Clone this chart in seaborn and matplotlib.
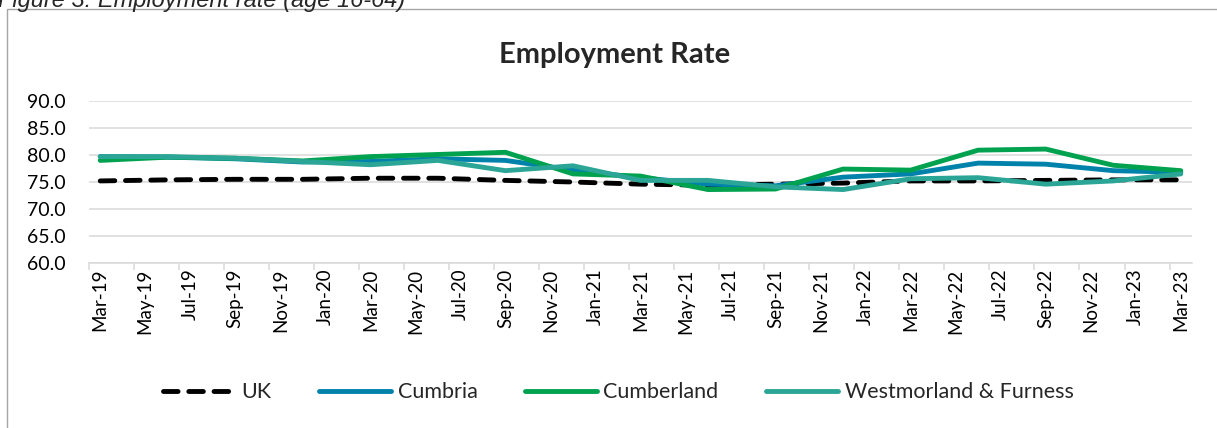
import pandas as pd
import seaborn as sns
import matplotlib.pyplot as plt
from matplotlib.patches import Rectangle
from matplotlib.ticker import FixedLocator, FuncFormatter

# quarterly readings, month offset counted from Mar-19
quarters = ["Mar-19", "Jun-19", "Sep-19", "Dec-19", "Mar-20", "Jun-20", "Sep-20", "Dec-20",
            "Mar-21", "Jun-21", "Sep-21", "Dec-21", "Mar-22", "Jun-22", "Sep-22", "Dec-22", "Mar-23"]
quarter_month = [0, 3, 6, 9, 12, 15, 18, 21, 24, 27, 30, 33, 36, 39, 42, 45, 48]

tick_labels = ["Mar-19", "May-19", "Jul-19", "Sep-19", "Nov-19", "Jan-20", "Mar-20", "May-20",
               "Jul-20", "Sep-20", "Nov-20", "Jan-21", "Mar-21", "May-21", "Jul-21", "Sep-21",
               "Nov-21", "Jan-22", "Mar-22", "May-22", "Jul-22", "Sep-22", "Nov-22", "Jan-23", "Mar-23"]

uk = [75.2, 75.4, 75.5, 75.5, 75.7, 75.7, 75.3, 75.0, 74.6, 74.4, 74.6, 74.8, 75.2, 75.2, 75.3, 75.4, 75.4]
cumbria = [79.7, 79.6, 79.3, 78.7, 78.8, 79.3, 79.0, 77.2, 75.8, 74.6, 74.3, 75.9, 76.5, 78.5, 78.3, 77.1, 76.8]
cumberland = [79.0, 79.6, 79.4, 78.9, 79.7, 80.1, 80.5, 76.5, 76.1, 73.6, 73.7, 77.4, 77.2, 80.9, 81.1, 78.1, 77.1]
westmorland = [79.7, 79.7, 79.4, 78.8, 78.2, 79.0, 77.1, 78.0, 75.3, 75.3, 74.1, 73.6, 75.6, 75.8, 74.6, 75.2, 76.5]

areas = ["UK", "Cumbria", "Cumberland", "Westmorland & Furness"]
colours = {"UK": "#000000", "Cumbria": "#0082aa", "Cumberland": "#00a250", "Westmorland & Furness": "#2aa596"}
dash_styles = {"UK": (3.0, 2.2), "Cumbria": "", "Cumberland": "", "Westmorland & Furness": ""}

frames = []
for area, values in zip(areas, [uk, cumbria, cumberland, westmorland]):
    frames.append(pd.DataFrame({"month": quarter_month, "quarter": quarters, "rate": values, "area": area}))
df = pd.concat(frames, ignore_index=True)

sns.set_theme(style="white")
plt.rcParams["font.family"] = ["Lato", "DejaVu Sans"]

fig = plt.figure(figsize=(12.17, 4.28), dpi=100)
ax = fig.add_axes([0.0731, 0.3855, 0.9064, 0.3785])

sns.lineplot(df, x="month", y="rate", hue="area", style="area", hue_order=areas, style_order=areas,
             palette=colours, dashes=dash_styles, linewidth=3.5, legend=False, ax=ax)
for line in ax.lines:
    line.set_dash_capstyle("round")
    line.set_solid_capstyle("round")
    line.set_solid_joinstyle("round")

ax.set_xlim(-0.5, 48.5)
ax.set_ylim(60, 90)
ax.set_xlabel("")
ax.set_ylabel("")

ax.set_xticks(range(0, 49, 2))
ax.set_xticklabels(tick_labels, rotation=90)
ax.xaxis.set_minor_locator(FixedLocator([m - 0.5 for m in range(0, 49, 2)]))
ax.tick_params(axis="x", which="major", length=0, pad=4, labelsize=13.5, colors="#000000")
ax.tick_params(axis="x", which="minor", bottom=True, length=5, width=1.1, color="#d9d9d9")

ax.set_yticks(range(60, 91, 5))
ax.yaxis.set_major_formatter(FuncFormatter(lambda v, p: "{:.1f}".format(v)))
ax.tick_params(axis="y", length=0, pad=17, labelsize=14, colors="#000000")

ax.yaxis.grid(True, color="#d9d9d9", linewidth=1.1)
ax.set_axisbelow(True)
for side in ["left", "right", "top"]:
    ax.spines[side].set_visible(False)
ax.spines["bottom"].set_color("#d9d9d9")
ax.spines["bottom"].set_linewidth(1.1)

fig.text(0.505, 0.871, "Employment Rate", ha="center", va="center", fontsize=21, fontweight="bold")
fig.text(-0.002, 1 - 7 / 428, "Figure 3: Employment rate (age 16-64)", ha="left", va="baseline",
         fontsize=17, style="italic", family=["Liberation Sans", "DejaVu Sans"])

fig.patches.append(Rectangle((7 / 1217, -0.05), 1.1, 1 - 9 / 428 + 0.05, transform=fig.transFigure,
                             fill=False, edgecolor="#a6a6a6", linewidth=1.0))

ax.legend(ax.lines, areas, loc="center", bbox_to_anchor=(0.508, 0.084), bbox_transform=fig.transFigure,
          ncol=4, frameon=False, fontsize=15.5, handlelength=3.35, handletextpad=0.3, columnspacing=2.2)

fig.savefig("out.png", dpi=100)
